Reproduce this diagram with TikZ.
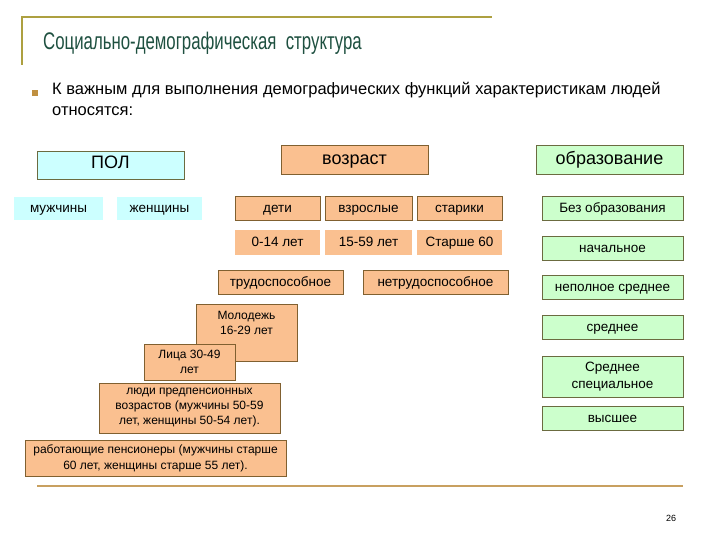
\documentclass[tikz,border=0pt]{standalone}
\usepackage{fontspec}
\setmainfont{Liberation Sans}
\usepackage{tikz}

\definecolor{frameolive}{HTML}{ADA040}
\definecolor{titlegreen}{HTML}{1E5040}
\definecolor{bulletbrown}{HTML}{C09040}
\definecolor{agefill}{HTML}{FAC090}
\definecolor{ageline}{HTML}{806030}
\definecolor{sexfill}{HTML}{CCFFFF}
\definecolor{edufill}{HTML}{CCFFCC}
\definecolor{eduline}{HTML}{6B6B40}
\definecolor{footline}{HTML}{C8A060}

\begin{document}
\begin{tikzpicture}[x=1pt,y=-1pt,
  box/.style={rectangle,inner sep=1pt,text height=0.85em,text depth=0pt,font=\fontsize{13.5}{16}\selectfont},
  sexbox/.style={box,fill=sexfill},
  agebox/.style={box,fill=agefill,draw=ageline,line width=0.8pt},
  agenobox/.style={box,fill=agefill},
  edubox/.style={box,fill=edufill,draw=eduline,line width=0.8pt,minimum width=141,minimum height=23.5},
  headbox/.style={box,minimum width=147,text height=1em,font=\fontsize{18}{20}\selectfont},
  groupbox/.style={agebox,align=center,text height=,text depth=,font=\fontsize{12}{15}\selectfont}]
  \useasboundingbox (0,0) rectangle (720,540);
  % title frame
  \draw[frameolive,line width=1.5pt] (22,65) -- (22,17) -- (492,17);
  \node[anchor=base west,text=titlegreen,inner sep=0] (title) at (43,50)
    {\fontsize{24}{26}\selectfont\scalebox{0.7}[1]{Социально-демографическая\ \ структура}};
  % bullet
  \fill[bulletbrown] (32,90) rectangle (38,96);
  \node[anchor=base west,inner sep=0,align=left,font=\fontsize{16.5}{21}\selectfont] (intro) at (52,116)
    {К важным для выполнения демографических функций характеристикам людей\\
     относятся:};

  % sex
  \node[sexbox,headbox,text height=0.72em,draw=eduline,line width=0.8pt,minimum height=28] (pol) at (110.5,165) {ПОЛ};
  \node[sexbox,minimum width=89,minimum height=23] (male) at (58.5,208.5) {мужчины};
  \node[sexbox,minimum width=85,minimum height=23] (female) at (159.5,208.5) {женщины};

  % age
  \node[agebox,headbox,minimum height=29] (age) at (354.5,159.5) {возраст};
  \node[agebox,minimum width=85,minimum height=24] (kids) at (277.5,208) {дети};
  \node[agebox,minimum width=87,minimum height=24] (adults) at (368.5,208) {взрослые};
  \node[agebox,minimum width=85,minimum height=24] (elders) at (459.5,208) {старики};
  \node[agenobox,minimum width=85,minimum height=25] (kidsyr) at (277.5,242.5) {0-14 лет};
  \node[agenobox,minimum width=87,minimum height=25] (adultsyr) at (368.5,242.5) {15-59 лет};
  \node[agenobox,minimum width=85,minimum height=25] (eldersyr) at (459.5,242.5) {Старше 60};
  \node[agebox,minimum width=125,minimum height=24] (able) at (280.5,282) {трудоспособное};
  \node[agebox,minimum width=145,minimum height=24] (unable) at (435.5,282) {нетрудоспособное};

  % able-bodied groups
  \node[groupbox,minimum width=101,minimum height=57,
    label={[anchor=north,align=center,inner sep=7pt,font=\fontsize{12}{15}\selectfont]north:Молодежь\\16-29 лет}]
    (youth) at (246.5,332.5) {};
  \node[groupbox,minimum width=91,minimum height=36] (middle) at (189.5,362) {Лица 30-49\\лет};
  \node[groupbox,minimum width=181,minimum height=50] (prepens) at (189.5,408)
    {люди предпенсионных\\возрастов (мужчины 50-59\\лет, женщины 50-54 лет).};
  \node[groupbox,minimum width=261,minimum height=36,font=\fontsize{12}{16}\selectfont] (pens) at (155.5,458)
    {работающие пенсионеры (мужчины старше\\60 лет, женщины старше 55 лет).};

  % education
  \node[edubox,headbox,draw=eduline,minimum height=29] (edu) at (609.5,159.5) {образование};
  \node[edubox] (noedu) at (612.5,208.5) {Без образования};
  \node[edubox] (primary) at (612.5,248.5) {начальное};
  \node[edubox,minimum height=24] (incomplete) at (612.5,287) {неполное среднее};
  \node[edubox,minimum height=24] (secondary) at (612.5,327) {среднее};
  \node[edubox,minimum height=41,align=center,text height=,text depth=,font=\fontsize{13.5}{17}\selectfont] (special) at (612.5,376.5) {Среднее\\специальное};
  \node[edubox,minimum height=24] (higher) at (612.5,418) {высшее};

  % footer
  \draw[footline,line width=2.5pt] (37,486) -- (683,486);
  \node[font=\fontsize{9}{10}\selectfont] (page) at (671,518) {26};
\end{tikzpicture}
\end{document}
